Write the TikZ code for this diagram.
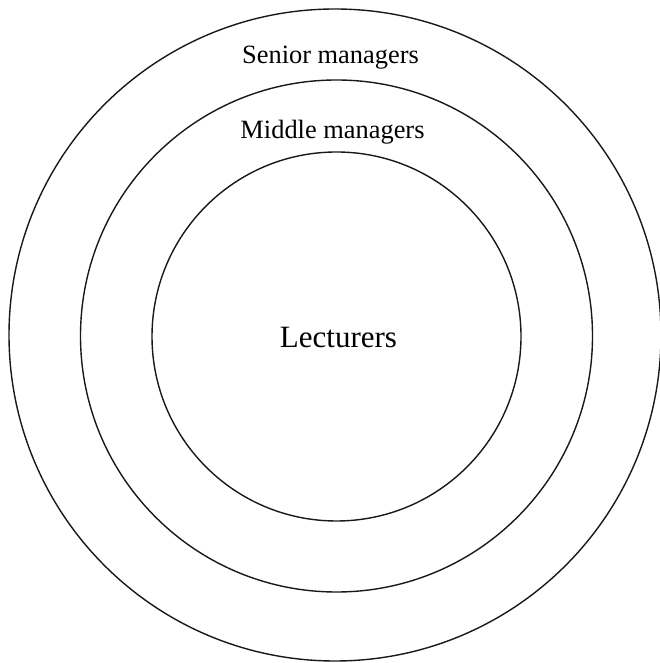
\documentclass[tikz,border=0pt]{standalone}
\usepackage{fontspec}
\setmainfont{Liberation Serif}
\begin{document}
\begin{tikzpicture}[x=1pt,y=1pt,
  ring/.style={draw=black!90,line width=1.4pt},
  lbl/.style={anchor=base,inner sep=0pt,font=\fontsize{26.4}{30}\selectfont},
  biglbl/.style={anchor=base,inner sep=0pt,font=\fontsize{31}{35}\selectfont}]
\useasboundingbox (0,0) rectangle (659,663);
\node[ring,circle,minimum size=652pt,inner sep=0pt] (outer) at (335,328) {};
\node[ring,circle,minimum size=512pt,inner sep=0pt] (middle) at (336.5,327) {};
\node[ring,circle,minimum size=369pt,inner sep=0pt] (inner) at (336.5,326.5) {};
\node[lbl] (senior) at (330.5,599) {Senior managers};
\node[lbl] (mid) at (332.5,524) {Middle managers};
\node[biglbl] (lect) at (338.5,315) {Lecturers};
\end{tikzpicture}
\end{document}
